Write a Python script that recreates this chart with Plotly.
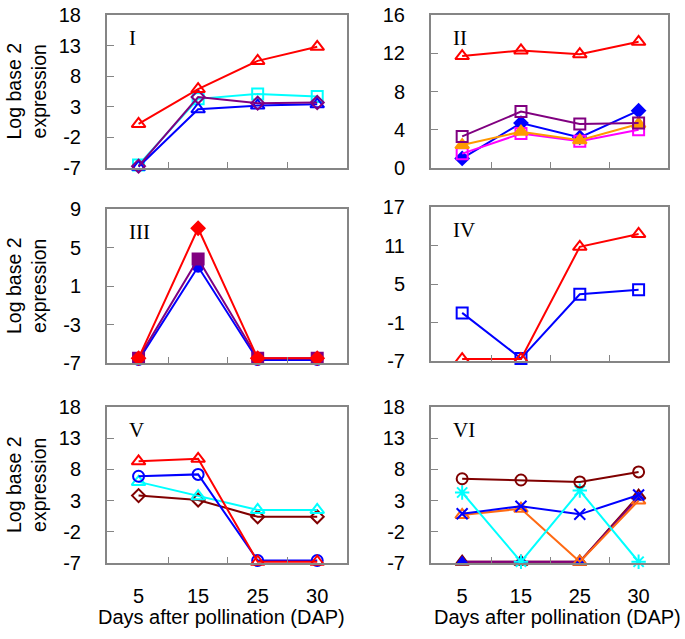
import plotly.graph_objects as go

DAP = ["5", "15", "25", "30"]
XI = list(range(len(DAP)))

# Panel I
p1_cyan = [-6.5, 4.3, 5.1, 4.7]
p1_blue = [-6.8, 2.6, 3.2, 3.4]
p1_purple = [-6.7, 4.6, 3.6, 3.7]
p1_red = [0.2, 5.9, 10.5, 12.8]
# Panel II
p2_blue = [1.0, 4.7, 3.2, 6.0]
p2_magenta = [1.5, 3.6, 2.8, 4.0]
p2_orange = [2.4, 3.8, 2.9, 4.6]
p2_purple = [3.3, 5.9, 4.6, 4.7]
p2_red = [11.7, 12.3, 11.9, 13.2]
# Panel III
p3_blue = [-6.7, 3.0, -6.7, -6.7]
p3_purple = [-6.5, 3.8, -6.5, -6.5]
p3_red = [-6.5, 7.0, -6.5, -6.5]
# Panel IV
p4_blue = [0.5, -6.6, 3.4, 4.1]
p4_red = [-6.7, -6.7, 10.8, 12.8]
# Panel V
p5_maroon = [3.8, 3.1, 0.4, 0.4]
p5_cyan = [6.0, 3.7, 1.5, 1.5]
p5_blue = [6.9, 7.2, -6.6, -6.6]
p5_red = [9.3, 9.7, -6.8, -6.8]
# Panel VI
p6_purple = [-6.8, -6.8, -6.8, 3.5]
p6_maroon_tri = [-6.8, -6.8, -6.8, 3.8]
p6_orange = [0.7, 1.7, -6.8, 3.0]
p6_blue = [0.9, 2.1, 0.8, 3.9]
p6_cyan = [4.3, -6.8, 4.6, -6.8]
p6_maroon = [6.5, 6.3, 6.0, 7.6]

YTICKS_I = [-7, -2, 3, 8, 13, 18]
YTICKS_II = [0, 4, 8, 12, 16]
YTICKS_III = [-7, -3, 1, 5, 9]
YTICKS_IV = [-7, -1, 5, 11, 17]
YTICKS_V = [-7, -2, 3, 8, 13, 18]
YTICKS_VI = [-7, -2, 3, 8, 13, 18]
PANEL_NAMES = ["I", "II", "III", "IV", "V", "VI"]
XTITLE = "Days after pollination (DAP)"
YTITLE = "Log base 2<br>expression"

RED = "#FF0000"; CYAN = "#00FFFF"; BLUE = "#0000FF"; PURPLE = "#800080"
MAROON = "#800000"; ORANGE = "#FF9900"; ORANGE2 = "#FF6A13"; MAGENTA = "#FF00FF"

panels = [
    ([-7, 18], YTICKS_I, [
        (p1_cyan, CYAN, "square-open", 11, CYAN),
        (p1_blue, BLUE, "triangle-up-open", 12, BLUE),
        (p1_purple, PURPLE, "diamond-open", 10, PURPLE),
        (p1_red, RED, "triangle-up-open", 12, RED)]),
    ([0, 16], YTICKS_II, [
        (p2_blue, BLUE, "diamond", 10, BLUE),
        (p2_magenta, MAGENTA, "square-open", 11, MAGENTA),
        (p2_orange, ORANGE, "triangle-up", 12, ORANGE),
        (p2_purple, PURPLE, "square-open", 11, PURPLE),
        (p2_red, RED, "triangle-up-open", 12, RED)]),
    ([-7, 9], YTICKS_III, [
        (p3_blue, BLUE, "circle", 10, BLUE),
        (p3_purple, PURPLE, "square", 11, PURPLE),
        (p3_red, RED, "diamond", 10, RED)]),
    ([-7, 17], YTICKS_IV, [
        (p4_blue, BLUE, "square-open", 11, BLUE),
        (p4_red, RED, "triangle-up-open", 12, RED)]),
    ([-7, 18], YTICKS_V, [
        (p5_maroon, MAROON, "diamond-open", 10, MAROON),
        (p5_cyan, CYAN, "triangle-up-open", 12, CYAN),
        (p5_blue, BLUE, "circle-open", 11, BLUE),
        (p5_red, RED, "triangle-up-open", 12, RED)]),
    ([-7, 18], YTICKS_VI, [
        (p6_maroon_tri, MAROON, "triangle-up-open", 12, MAROON),
        (p6_purple, PURPLE, "triangle-up", 9, BLUE),
        (p6_orange, ORANGE2, "triangle-up-open", 12, ORANGE2),
        (p6_blue, BLUE, "x-thin-open", 11, BLUE),
        (p6_cyan, CYAN, "asterisk-open", 12, CYAN),
        (p6_maroon, MAROON, "circle-open", 11, MAROON)]),
]

W, H = 685, 639
boxes = [  # (left, right, top, bottom) in pixels
    (107, 347, 15, 168), (431, 668, 15, 168),
    (107, 347, 209, 363), (431, 668, 207, 361),
    (107, 347, 407, 563), (431, 668, 407, 563),
]
XTITLE_CENTERS = [221, 557]

fig = go.Figure()
layout = dict(width=W, height=H, margin=dict(l=0, r=0, t=0, b=0, autoexpand=False),
              template="none",
              paper_bgcolor="white", plot_bgcolor="white", showlegend=False,
              font=dict(family="Arial", size=20, color="black"))
annotations = []
for i, ((yr, yt, series), (l, r, t, b)) in enumerate(zip(panels, boxes)):
    n = i + 1
    xa = "xaxis" if n == 1 else f"xaxis{n}"
    ya = "yaxis" if n == 1 else f"yaxis{n}"
    xref = "x" if n == 1 else f"x{n}"
    yref = "y" if n == 1 else f"y{n}"
    for ys, col, sym, sz, mcol in series:
        fig.add_trace(go.Scatter(
            x=XI, y=ys, mode="lines+markers", xaxis=xref, yaxis=yref,
            line=dict(color=col, width=2),
            marker=dict(symbol=sym, size=sz, color=mcol,
                        line=dict(color=mcol, width=2)),
            cliponaxis=False, hoverinfo="skip"))
    bottom = i >= 4
    layout[xa] = dict(
        domain=[l / W, r / W], range=[-0.53, 3.5], anchor=yref, automargin=False,
        tickmode="array", tickvals=XI, ticktext=DAP, ticks="",
        showticklabels=bottom, ticklabelstandoff=14,
        showline=True, linecolor="#858585", linewidth=2, mirror=True,
        showgrid=False, zeroline=False,
        minor=dict(tickmode="array", tickvals=[0.5, 1.5, 2.5], ticks="inside",
                   ticklen=6, tickcolor="#858585", tickwidth=1, showgrid=False))
    layout[ya] = dict(
        domain=[1 - b / H, 1 - t / H], range=yr, anchor=xref, automargin=False,
        tickmode="array", tickvals=yt, ticktext=[str(v) for v in yt],
        ticks="inside", ticklen=7,
        tickcolor="#858585", tickwidth=1, ticklabelstandoff=20,
        showline=True, linecolor="#858585", linewidth=2, mirror=True,
        showgrid=False, zeroline=False)
    annotations.append(dict(
        text=PANEL_NAMES[i], xref=f"{xref} domain", yref=f"{yref} domain",
        x=20 / (r - l), y=1 - 23 / (b - t), xanchor="left", yanchor="middle",
        showarrow=False, font=dict(family="Liberation Serif, Times New Roman", size=21)))
    if i % 2 == 0:
        annotations.append(dict(
            text=YTITLE, xref="paper", yref=f"{yref} domain",
            x=26 / W, y=0.5, xanchor="center", yanchor="middle", textangle=-90,
            showarrow=False, font=dict(size=19.5)))
    if bottom:
        annotations.append(dict(
            text=XTITLE, xref="paper", yref="paper",
            x=XTITLE_CENTERS[i - 4] / W, y=1 - 617 / H,
            xanchor="center", yanchor="middle",
            showarrow=False, font=dict(size=20)))
layout["annotations"] = annotations
fig.update_layout(**layout)
fig.write_html("out.html", config={"displayModeBar": False},
               post_script="document.body.style.margin='0';")
